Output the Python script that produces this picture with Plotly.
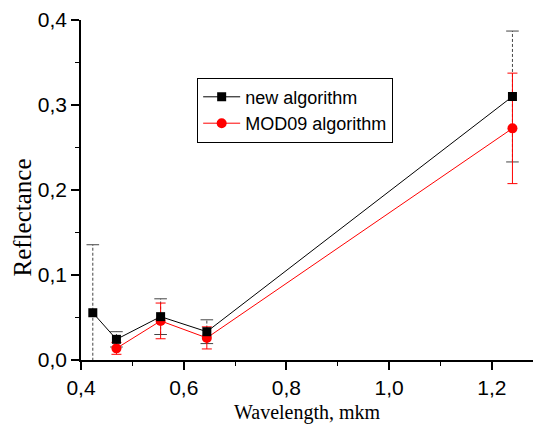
import plotly.graph_objects as go

# Data
wl_new = [0.423, 0.469, 0.555, 0.645, 1.24]
refl_new = [0.0556, 0.0243, 0.051, 0.0333, 0.310]
err_new = [0.080, 0.009, 0.021, 0.014, 0.077]

wl_mod = [0.469, 0.555, 0.645, 1.24]
refl_mod = [0.0137, 0.046, 0.026, 0.2725]
err_mod = [0.007, 0.021, 0.013, 0.065]

x_title = "Wavelength, mkm"
y_title = "Reflectance"

fig = go.Figure()

# dashed error bars for new algorithm (built from data)
ex, ey = [], []
for x, y, e in zip(wl_new, refl_new, err_new):
    ex += [x, x, None]
    ey += [y - e, y + e, None]
fig.add_trace(go.Scatter(x=ex, y=ey, mode="lines", showlegend=False, hoverinfo="skip",
                         line=dict(color="#444444", width=1, dash="3px,2px")))
fig.add_trace(go.Scatter(x=wl_new + wl_new,
                         y=[y + e for y, e in zip(refl_new, err_new)] + [y - e for y, e in zip(refl_new, err_new)],
                         mode="markers", showlegend=False, hoverinfo="skip",
                         marker=dict(symbol="line-ew", size=9, line=dict(color="#444444", width=1))))

fig.add_trace(go.Scatter(x=wl_mod, y=refl_mod, mode="lines+markers", name="MOD09 algorithm",
                         line=dict(color="#ff0000", width=1),
                         marker=dict(symbol="circle", size=10, color="#ff0000"),
                         error_y=dict(type="data", array=err_mod, color="#ff0000", thickness=1, width=5)))

fig.add_trace(go.Scatter(x=wl_new, y=refl_new, mode="lines+markers", name="new algorithm",
                         line=dict(color="black", width=1),
                         marker=dict(symbol="square", size=9, color="black")))

axis_common = dict(showgrid=False, zeroline=False, showline=True, linecolor="black", linewidth=1.5,
                   ticks="outside", ticklen=8, tickwidth=1.5, tickcolor="black", automargin=False,
                   tickfont=dict(family="Liberation Sans, Arial", size=21, color="black"))

fig.update_xaxes(range=[0.4, 1.28], dtick=0.2, tickformat=".1f",
                 minor=dict(dtick=0.1, ticks="outside", ticklen=4, tickwidth=1.2, tickcolor="black"),
                 **axis_common)
fig.update_yaxes(range=[0, 0.4], dtick=0.1, tickformat=".1f",
                 minor=dict(dtick=0.05, ticks="outside", ticklen=4, tickwidth=1.2, tickcolor="black"),
                 **axis_common)

fig.add_annotation(text=x_title, xref="paper", yref="paper", x=0.5, y=-0.153,
                   xanchor="center", yanchor="middle", showarrow=False,
                   font=dict(family="Liberation Serif, Times New Roman", size=20, color="black"))
fig.add_annotation(text=y_title, xref="paper", yref="paper", x=-0.13, y=0.42,
                   xanchor="center", yanchor="middle", showarrow=False, textangle=-90,
                   font=dict(family="Liberation Serif, Times New Roman", size=25, color="black"))

fig.update_layout(
    width=535, height=429,
    margin=dict(l=81, r=2, t=20, b=69),
    plot_bgcolor="white", paper_bgcolor="white",
    separators=", ",
    legend=dict(x=0.257, y=0.735, xanchor="left", yanchor="middle",
                bordercolor="black", borderwidth=1, bgcolor="white",
                traceorder="reversed", tracegroupgap=0,
                font=dict(family="Liberation Sans, Arial", size=18, color="black"),
                itemwidth=37),
)

fig.write_html("out.html", config={"displayModeBar": False},
               post_script="document.body.style.margin='0';document.body.style.overflow='hidden';")
